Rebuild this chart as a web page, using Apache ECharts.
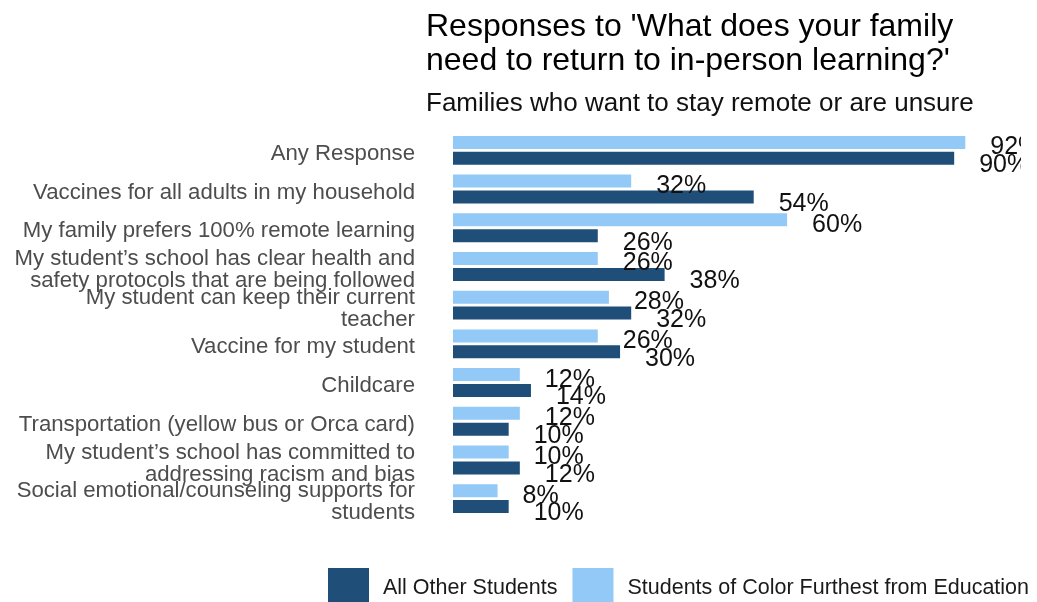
<!DOCTYPE html>
<html>
<head>
<meta charset="utf-8">
<script src="https://cdn.jsdelivr.net/npm/echarts@6/dist/echarts.min.js"></script>
<style>
  html, body { margin: 0; padding: 0; background: #fff; }
  #chart { width: 1037px; height: 602px; }
</style>
</head>
<body>
<div id="chart"></div>
<script>
// Survey categories, top to bottom
const categories = [
  'Any Response',
  'Vaccines for all adults in my household',
  'My family prefers 100% remote learning',
  'My student\u2019s school has clear health and\nsafety protocols that are being followed',
  'My student can keep their current\nteacher',
  'Vaccine for my student',
  'Childcare',
  'Transportation (yellow bus or Orca card)',
  'My student\u2019s school has committed to\naddressing racism and bias',
  'Social emotional/counseling supports for\nstudents'
];

// Percent of families choosing each response
const allOtherStudents = [90, 54, 26, 38, 32, 30, 14, 10, 12, 10];
const studentsOfColor = [92, 32, 60, 26, 28, 26, 12, 12, 10, 8];

const seriesNames = ['All Other Students', 'Students of Color Furthest from Education'];

const titleText = 'Responses to \'What does your family\nneed to return to in-person learning?\'';
const subtitleText = 'Families who want to stay remote or are unsure';

const FONT = '"Liberation Sans", Arial, sans-serif';
const DARK = '#1F4E78';
const LIGHT = '#92C9F6';

const chart = echarts.init(document.getElementById('chart'), null, { renderer: 'canvas' });

const valueLabel = (dy) => ({
  show: true,
  position: 'right',
  distance: 25,
  offset: [0, dy],
  formatter: '{c}%',
  fontFamily: FONT,
  fontSize: 25,
  color: '#111'
});

// Category text sits a little below the bar pair: a thin spacer line on top nudges it down
const categoryFormatter = (v) =>
  '{gap| }\n' + v.split('\n').map((line) => '{t|' + line + '}').join('\n');

chart.setOption({
  backgroundColor: '#fff',
  animation: false,
  title: {
    text: titleText,
    subtext: subtitleText,
    left: 426,
    top: 5,
    padding: [5, 0, 5, 0],
    itemGap: 13,
    textStyle: { fontFamily: FONT, fontSize: 32, fontWeight: 'normal', color: '#000', lineHeight: 34 },
    subtextStyle: { fontFamily: FONT, fontSize: 26, color: '#111' }
  },
  legend: {
    data: seriesNames,
    left: 328,
    top: 568,
    padding: 0,
    icon: 'rect',
    itemWidth: 41,
    itemHeight: 40,
    itemGap: 15,
    textStyle: { fontFamily: FONT, fontSize: 21.5, color: '#1a1a1a', padding: [2, 0, 0, 9] }
  },
  grid: { left: 453, right: 16, top: 131, bottom: 84 },
  xAxis: {
    type: 'value',
    min: 0,
    max: 102,
    show: false
  },
  yAxis: {
    type: 'category',
    data: categories,
    inverse: true,
    axisLine: { show: false },
    axisTick: { show: false },
    splitLine: { show: false },
    axisLabel: {
      interval: 0,
      margin: 38,
      formatter: categoryFormatter,
      rich: {
        gap: { fontSize: 6, lineHeight: 7 },
        t: { fontFamily: FONT, fontSize: 22.2, lineHeight: 22, color: '#4d4d4d', align: 'right' }
      }
    }
  },
  series: [
    {
      name: seriesNames[1],
      type: 'bar',
      data: studentsOfColor,
      barWidth: 13,
      barGap: '22%',
      itemStyle: { color: LIGHT },
      label: valueLabel(5)
    },
    {
      name: seriesNames[0],
      type: 'bar',
      data: allOtherStudents,
      barWidth: 13,
      barGap: '22%',
      itemStyle: { color: DARK },
      label: valueLabel(7)
    }
  ],
  graphic: [
    {
      // panel edge: labels past it are cut off
      type: 'rect',
      right: 0,
      top: 120,
      shape: { width: 16, height: 60 },
      style: { fill: '#fff' },
      z: 100
    }
  ]
});
</script>
</body>
</html>
